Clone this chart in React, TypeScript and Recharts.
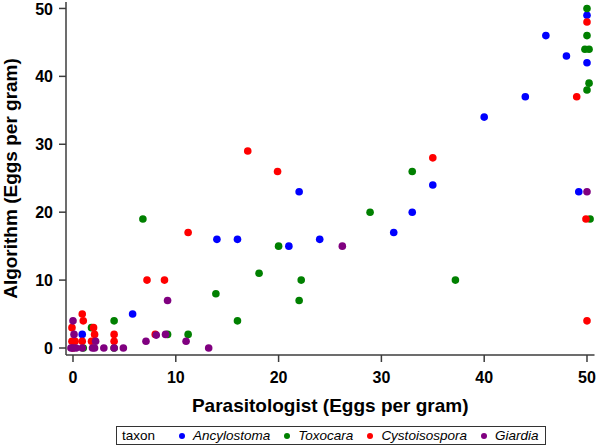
import { ScatterChart, Scatter, XAxis, YAxis, Legend, Label } from "recharts";

// values: [parasitologist, algorithm] in eggs per gram
const ancylostoma: [number, number][] = [
  [50, 49], [46, 46], [48, 43], [50, 42], [44, 37], [40, 34], [49.2, 23],
  [35, 24], [22, 23], [33, 20], [31.2, 17], [24, 16], [14, 16], [16, 16],
  [21, 15], [5.8, 5], [0.9, 2],
];

const toxocara: [number, number][] = [
  [50, 50], [50, 46], [49.8, 44], [50.2, 44], [50.2, 39], [50, 38], [50.3, 19],
  [33, 26], [28.9, 20], [37.2, 10], [22.2, 10], [22, 7], [20, 15], [18.1, 11],
  [13.9, 8], [16, 4], [6.8, 19], [4, 4], [1.8, 3], [9.2, 2], [11.2, 2],
  [1, 0], [4, 0],
];

const cystoisospora: [number, number][] = [
  [50, 48], [49, 37], [49.9, 19], [50, 4], [35, 28], [17, 29], [19.9, 26],
  [11.2, 17], [7.2, 10], [8.9, 10], [8, 2], [0.9, 5], [1, 4], [-0.1, 3],
  [2, 3], [2.1, 2], [4, 2], [-0.1, 1], [0.2, 1], [0.9, 1], [1.8, 1], [4, 1],
  [0, 0],
];

const giardia: [number, number][] = [
  [50, 23], [26.2, 15], [9.2, 7], [8.1, 1.9], [9, 2], [11, 1], [13.2, 0],
  [7.1, 1], [0, 4], [0.1, 2], [2.2, 1], [-0.2, 0], [0, 0], [0.3, 0], [0.9, 0],
  [1.9, 0], [2.1, 0], [3, 0], [4, 0], [4.9, 0],
];

const taxonNames = ["Ancylostoma", "Toxocara", "Cystoisospora", "Giardia"];
const taxonPoints = [ancylostoma, toxocara, cystoisospora, giardia];
const xTicks = [0, 10, 20, 30, 40, 50];
const yTicks = [0, 10, 20, 30, 40, 50];

const COLORS: Record<string, string> = {
  Ancylostoma: "#0000ff",
  Toxocara: "#008000",
  Cystoisospora: "#ff0000",
  Giardia: "#800080",
};

const FONT = '"Liberation Sans", Arial, Helvetica, sans-serif';
const AXIS = "#3c3c3c";

const dot = (color: string) => (p: any) => (
  <circle cx={p.cx} cy={p.cy} r={3.8} fill={color} />
);

const renderLegend = (props: any) => {
  const items = [...(props.payload || [])].sort(
    (a: any, b: any) => taxonNames.indexOf(a.value) - taxonNames.indexOf(b.value)
  );
  return (
    <div
      style={{
        display: "inline-flex",
        alignItems: "center",
        border: "1px solid #333",
        background: "#fff",
        padding: "0 7px 0 5px",
        height: 17,
        fontSize: 13.5,
        fontFamily: FONT,
        color: "#000",
        whiteSpace: "nowrap",
      }}
    >
      <span style={{ marginRight: 24 }}>taxon</span>
      {items.map((e: any, i: number) => (
        <span
          key={e.value}
          style={{ display: "flex", alignItems: "center", marginLeft: i ? 14 : 0 }}
        >
          <span
            style={{
              width: 6,
              height: 6,
              borderRadius: 3,
              background: COLORS[e.value] || e.color,
              marginRight: 8,
            }}
          />
          <span style={{ fontStyle: "italic" }}>{e.value}</span>
        </span>
      ))}
    </div>
  );
};

const titleStyle = { fontFamily: FONT, fontSize: 19, fontWeight: 700, fill: "#000" };

export default function App() {
  return (
    <div style={{ position: "absolute", left: 0, top: 0, width: 597, height: 446, background: "#fff" }}>
      <ScatterChart
        width={597}
        height={446}
        margin={{ top: 2, right: 2.5, bottom: 34, left: 0 }}
        style={{ fontFamily: FONT }}
      >
        <XAxis
          type="number"
          dataKey="x"
          domain={[-0.68, 50.73]}
          ticks={xTicks}
          allowDataOverflow
          height={57}
          tickSize={7}
          tickMargin={10}
          axisLine={{ stroke: AXIS, strokeWidth: 1.5 }}
          tickLine={{ stroke: AXIS, strokeWidth: 1.5 }}
          tick={{ fill: "#000", fontSize: 16, fontWeight: 700, fontFamily: FONT }}
        >
          <Label
            content={(p: any) => {
              const vb = p.viewBox || { x: 66, y: 355, width: 528, height: 57 };
              return (
                <text x={vb.x + vb.width / 2} y={vb.y + 57} textAnchor="middle" style={titleStyle}>
                  Parasitologist (Eggs per gram)
                </text>
              );
            }}
          />
        </XAxis>
        <YAxis
          type="number"
          dataKey="y"
          domain={[-1.03, 50.95]}
          ticks={yTicks}
          allowDataOverflow
          width={66}
          tickSize={7}
          tickMargin={6}
          axisLine={{ stroke: AXIS, strokeWidth: 1.5 }}
          tickLine={{ stroke: AXIS, strokeWidth: 1.5 }}
          tick={{ fill: "#000", fontSize: 16, fontWeight: 700, fontFamily: FONT }}
        >
          <Label
            content={(p: any) => {
              const vb = p.viewBox || { x: 0, y: 2, width: 66, height: 353 };
              const cx = vb.x + 16.5;
              const cy = vb.y + vb.height / 2;
              return (
                <text
                  x={cx}
                  y={cy}
                  textAnchor="middle"
                  transform={`rotate(-90 ${cx} ${cy})`}
                  style={titleStyle}
                >
                  Algorithm (Eggs per gram)
                </text>
              );
            }}
          />
        </YAxis>
        {/* frame: top and right edges */}
        <XAxis
          xAxisId="top"
          orientation="top"
          type="number"
          domain={[0, 1]}
          height={0}
          tick={false}
          tickLine={false}
          axisLine={{ stroke: AXIS, strokeWidth: 1.5 }}
        />
        <YAxis
          yAxisId="right"
          orientation="right"
          type="number"
          domain={[0, 1]}
          width={0}
          tick={false}
          tickLine={false}
          axisLine={{ stroke: AXIS, strokeWidth: 1.5 }}
        />
        {taxonNames.map((name, i) => (
          <Scatter
            key={name}
            name={name}
            data={taxonPoints[i].map(([x, y]) => ({ x, y }))}
            fill={COLORS[name]}
            legendType="circle"
            shape={dot(COLORS[name])}
            isAnimationActive={false}
          />
        ))}
        <Legend
          layout="horizontal"
          verticalAlign="middle"
          align="center"
          wrapperStyle={{ left: 116, top: 426, width: "auto", height: "auto" }}
          content={renderLegend}
        />
      </ScatterChart>
    </div>
  );
}
